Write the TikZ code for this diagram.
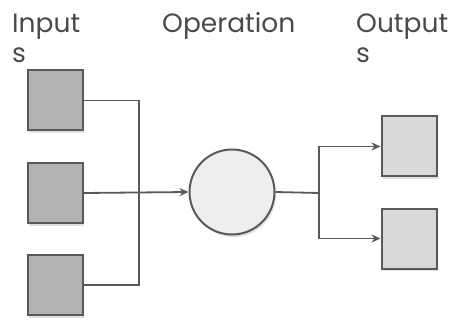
\documentclass[tikz,border=0pt]{standalone}
\usepackage{fontspec}
\setmainfont{Poppins}
\usetikzlibrary{arrows.meta,shadows}
\definecolor{edge}{HTML}{595959}
\definecolor{label}{HTML}{4A4A4A}
\definecolor{infill}{HTML}{B3B3B3}
\definecolor{outfill}{HTML}{D9D9D9}
\definecolor{opfill}{HTML}{EEEEEE}
\begin{document}
\begin{tikzpicture}[x=1pt,y=-1pt,
    heading/.style={anchor=base west, align=left, inner sep=0pt, text=label,
        font=\fontsize{26.5}{30}\selectfont},
    inbox/.style={draw=edge, line width=2pt, fill=infill, minimum width=55pt,
        minimum height=60pt, inner sep=0pt,
        drop shadow={opacity=0.25, shadow xshift=1.5pt, shadow yshift=-2.5pt}},
    outbox/.style={inbox, fill=outfill},
    opcircle/.style={draw=edge, line width=2pt, fill=opfill, circle,
        minimum size=85pt, inner sep=0pt,
        drop shadow={opacity=0.25, shadow xshift=1.5pt, shadow yshift=-2.5pt}},
    wire/.style={draw=edge, line width=1.8pt},
    arrow/.style={wire, -{Stealth[length=9pt,width=8pt,inset=3pt]}}]
    \useasboundingbox (0,0) rectangle (454,320);
    \node[heading] (intitle) at (12,63) {Input\\s};
    \node[heading] (optitle) at (162,33) {Operation};
    \node[heading] (outtitle) at (356,63) {Output\\s};
    \node[inbox] (in1) at (55,100.5) {};
    \node[inbox] (in2) at (55,193) {};
    \node[inbox] (in3) at (55,285) {};
    \node[opcircle] (op) at (232,192) {};
    \node[outbox] (out1) at (409,146.5) {};
    \node[outbox] (out2) at (409,238.5) {};
    \coordinate (bus) at (139,193);
    \coordinate (split) at (319,193);
    \draw[wire] (in1.east) -| (bus) |- (in3.east);
    \draw[arrow] (in2.east) -- (op.west);
    \draw[wire] (op.east) -- (split);
    \draw[arrow] (split) |- (out1.west);
    \draw[arrow] (split) |- (out2.west);
\end{tikzpicture}
\end{document}
